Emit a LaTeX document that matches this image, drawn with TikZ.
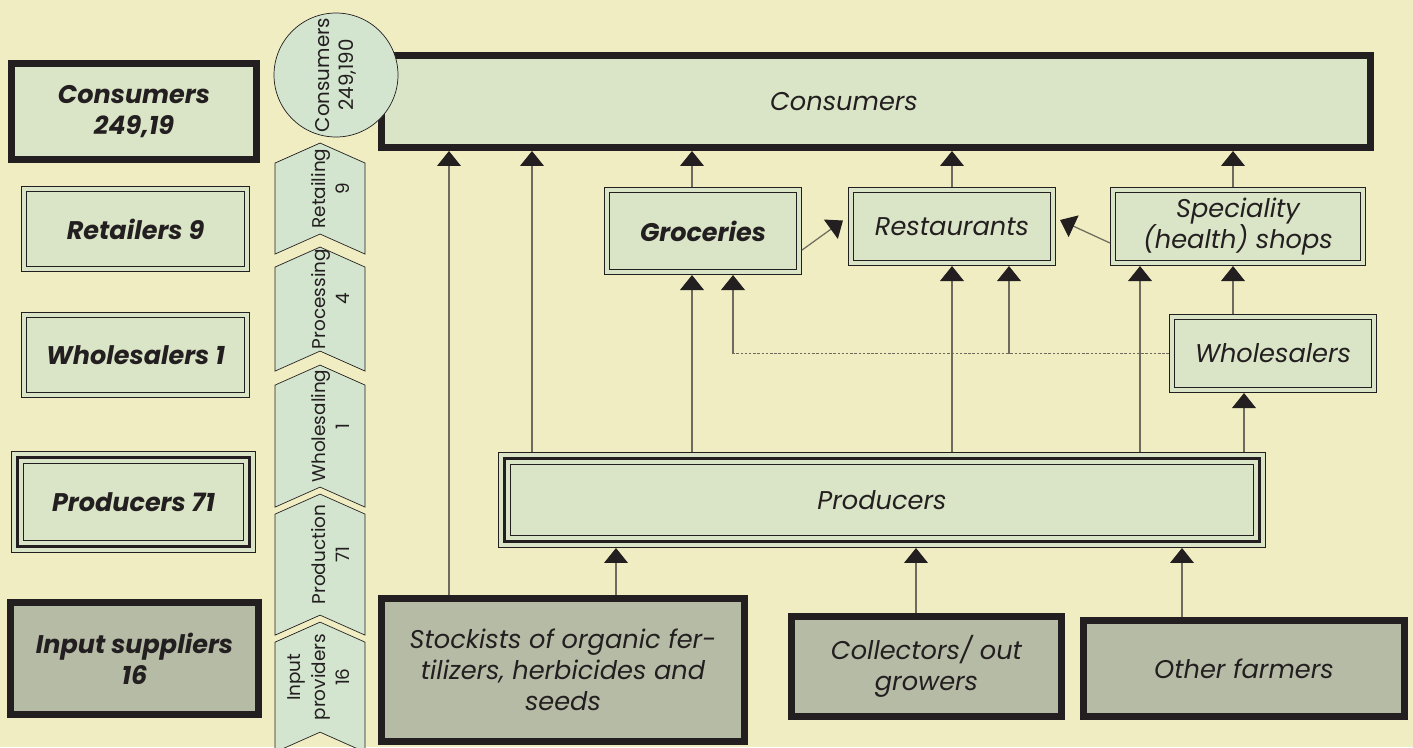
\documentclass[tikz,border=0pt]{standalone}
\usepackage{fontspec}
\setmainfont{Poppins}
\usetikzlibrary{arrows.meta}

\definecolor{paper}{HTML}{EFEDC1}
\definecolor{boxgreen}{HTML}{DAE4C6}
\definecolor{mint}{HTML}{D3E4CF}
\definecolor{stone}{HTML}{B6BBA5}
\definecolor{ink}{HTML}{231F20}
\definecolor{wire}{HTML}{6E6A5E}

\begin{document}
\begin{tikzpicture}[
    heavy/.style={draw=ink, line width=4pt, fill=boxgreen, inner sep=0pt,
                  outer sep=2pt, align=center, text=ink},
    twin/.style={draw=ink, line width=0.5pt, double=boxgreen,
                 double distance=2.2pt, fill=boxgreen, inner sep=0pt,
                 outer sep=1.6pt, align=center, text=ink},
    triple/.style={draw=ink, line width=1.6pt, inner sep=0pt, outer sep=3.7pt,
                   align=center, text=ink,
                   preaction={fill=boxgreen, draw=ink, line width=0.5pt,
                              double=boxgreen, double distance=6.4pt}},
    boldlabel/.style={font=\fontsize{14.5}{17.6}\selectfont\bfseries\itshape},
    thinlabel/.style={font=\fontsize{14.6}{17.6}\selectfont\itshape},
    stagelabel/.style={font=\fontsize{10.5}{14}\selectfont, text=ink,
                       align=center, rotate=90, inner sep=0pt},
    flow/.style={draw=wire, line width=0.7pt,
                 -{Triangle[length=8.5pt, width=13.5pt, color=ink]}},
    dotline/.style={draw=wire, line width=0.7pt, dash pattern=on 1.4pt off 1pt},
]

    \fill[paper] (0,0) rectangle (28.26,-14.94);
    \useasboundingbox (0,0) rectangle (28.26,-14.94);

    % stage chevrons
    \begin{scope}[x=0.02cm, y=-0.02cm]
    \foreach \nm/\top/\bot/\txt in {retailing/143/254/{Retailing\\9},
                                    processing/247/371/{Processing\\4},
                                    wholesaling/365/507/{Wholesaling\\1},
                                    production/494/635/{Production\\71},
                                    inputs/622/752/{Input\\providers\\16}} {
        \filldraw[fill=mint, draw=ink, line width=0.4pt]
            (275,\top+20) -- (320,\top) -- (365,\top+20) -- (365,\bot)
            -- (320,\bot-20) -- (275,\bot) -- cycle;
        \node[stagelabel, anchor=south] (\nm) at (350,{(\top+\bot)/2-10}) {\txt};
    }
    \end{scope}

    \node[heavy, boldlabel, minimum width=4.90cm, minimum height=1.92cm] (lcons) at (2.68,-2.23) {Consumers\\249,19};
    \node[twin, boldlabel, minimum width=4.47cm, minimum height=1.61cm] (lretail) at (2.71,-4.58) {Retailers 9};
    \node[twin, boldlabel, minimum width=4.47cm, minimum height=1.61cm] (lwhole) at (2.71,-7.10) {Wholesalers 1};
    \node[triple, boldlabel, minimum width=4.64cm, minimum height=1.78cm] (lprod) at (2.67,-10.04) {Producers 71};
    \node[heavy, boldlabel, fill=stone, minimum width=4.96cm, minimum height=2.24cm] (linput) at (2.69,-13.17) {Input suppliers\\16};

    \node[heavy, thinlabel, minimum width=19.78cm, minimum height=1.84cm] (cons) at (17.52,-2.03) {Consumers\hspace*{1.28cm}};
    \node[circle, draw=ink, line width=0.4pt, fill=mint, minimum size=2.48cm, stagelabel,
          font=\fontsize{11.3}{14}\selectfont] (ccirc) at (6.72,-1.50) {Consumers\\249,190};

    \node[twin, boldlabel, minimum width=3.85cm, minimum height=1.65cm] (groc) at (14.06,-4.62) {Groceries};
    \node[twin, thinlabel, minimum width=4.05cm, minimum height=1.47cm] (rest) at (19.04,-4.53) {Restaurants};
    \node[twin, thinlabel, minimum width=5.01cm, minimum height=1.47cm] (spec) at (24.76,-4.53) {Speciality\\(health) shops};
    \node[twin, thinlabel, minimum width=4.05cm, minimum height=1.47cm] (whole) at (25.46,-7.07) {Wholesalers};
    \node[triple, thinlabel, minimum width=15.10cm, minimum height=1.66cm] (prod) at (17.64,-10.00) {Producers};

    \node[heavy, thinlabel, fill=stone, minimum width=7.26cm, minimum height=2.86cm] (stock) at (11.26,-13.40) {Stockists of organic fer-\\tilizers, herbicides and\\seeds};
    \node[heavy, thinlabel, fill=stone, minimum width=5.40cm, minimum height=2.00cm] (coll) at (18.53,-13.33) {Collectors/ out\\growers};
    \node[heavy, thinlabel, fill=stone, minimum width=6.42cm, minimum height=1.92cm] (other) at (24.88,-13.37) {Other farmers};

    \draw[flow] ([xshift=-2.28cm]stock.north) -- ([xshift=-2.28cm]stock.north |- cons.south);
    \draw[flow] ([xshift=1.06cm]stock.north) -- ([xshift=1.06cm]stock.north |- prod.south);
    \draw[flow] ([xshift=-0.21cm]coll.north) -- ([xshift=-0.21cm]coll.north |- prod.south);
    \draw[flow] ([xshift=-1.24cm]other.north) -- ([xshift=-1.24cm]other.north |- prod.south);

    \draw[flow] ([xshift=-7.00cm]prod.north) -- ([xshift=-7.00cm]prod.north |- cons.south);
    \draw[flow] ([xshift=-3.80cm]prod.north) -- ([xshift=-3.80cm]prod.north |- groc.south);
    \draw[flow] ([xshift=1.40cm]prod.north) -- ([xshift=1.40cm]prod.north |- rest.south);
    \draw[flow] ([xshift=5.16cm]prod.north) -- ([xshift=5.16cm]prod.north |- spec.south);
    \draw[flow] ([xshift=7.24cm]prod.north) -- ([xshift=7.24cm]prod.north |- whole.south);

    \draw[flow] ([xshift=-0.22cm]groc.north) -- ([xshift=-0.22cm]groc.north |- cons.south);
    \draw[flow] (rest.north) -- (rest.north |- cons.south);
    \draw[flow] ([xshift=-0.10cm]spec.north) -- ([xshift=-0.10cm]spec.north |- cons.south);
    \draw[flow] ([xshift=-0.80cm]whole.north) -- ([xshift=-0.80cm]whole.north |- spec.south);

    \draw[flow] ([yshift=-0.38cm]groc.east) -- ([xshift=-0.10cm,yshift=0.12cm]rest.west);
    \draw[flow] ([yshift=-0.33cm]spec.west) -- ([xshift=0.08cm,yshift=0.13cm]rest.east);

    \coordinate (dotend) at ([xshift=0.60cm]groc.south |- whole.west);
    \coordinate (dotmid) at ([xshift=1.14cm]rest.south |- whole.west);
    \draw[dotline] (whole.west) -- (dotend);
    \draw[flow] (dotend) -- ([xshift=0.60cm]groc.south);
    \draw[flow] (dotmid) -- ([xshift=1.14cm]rest.south);

\end{tikzpicture}
\end{document}
